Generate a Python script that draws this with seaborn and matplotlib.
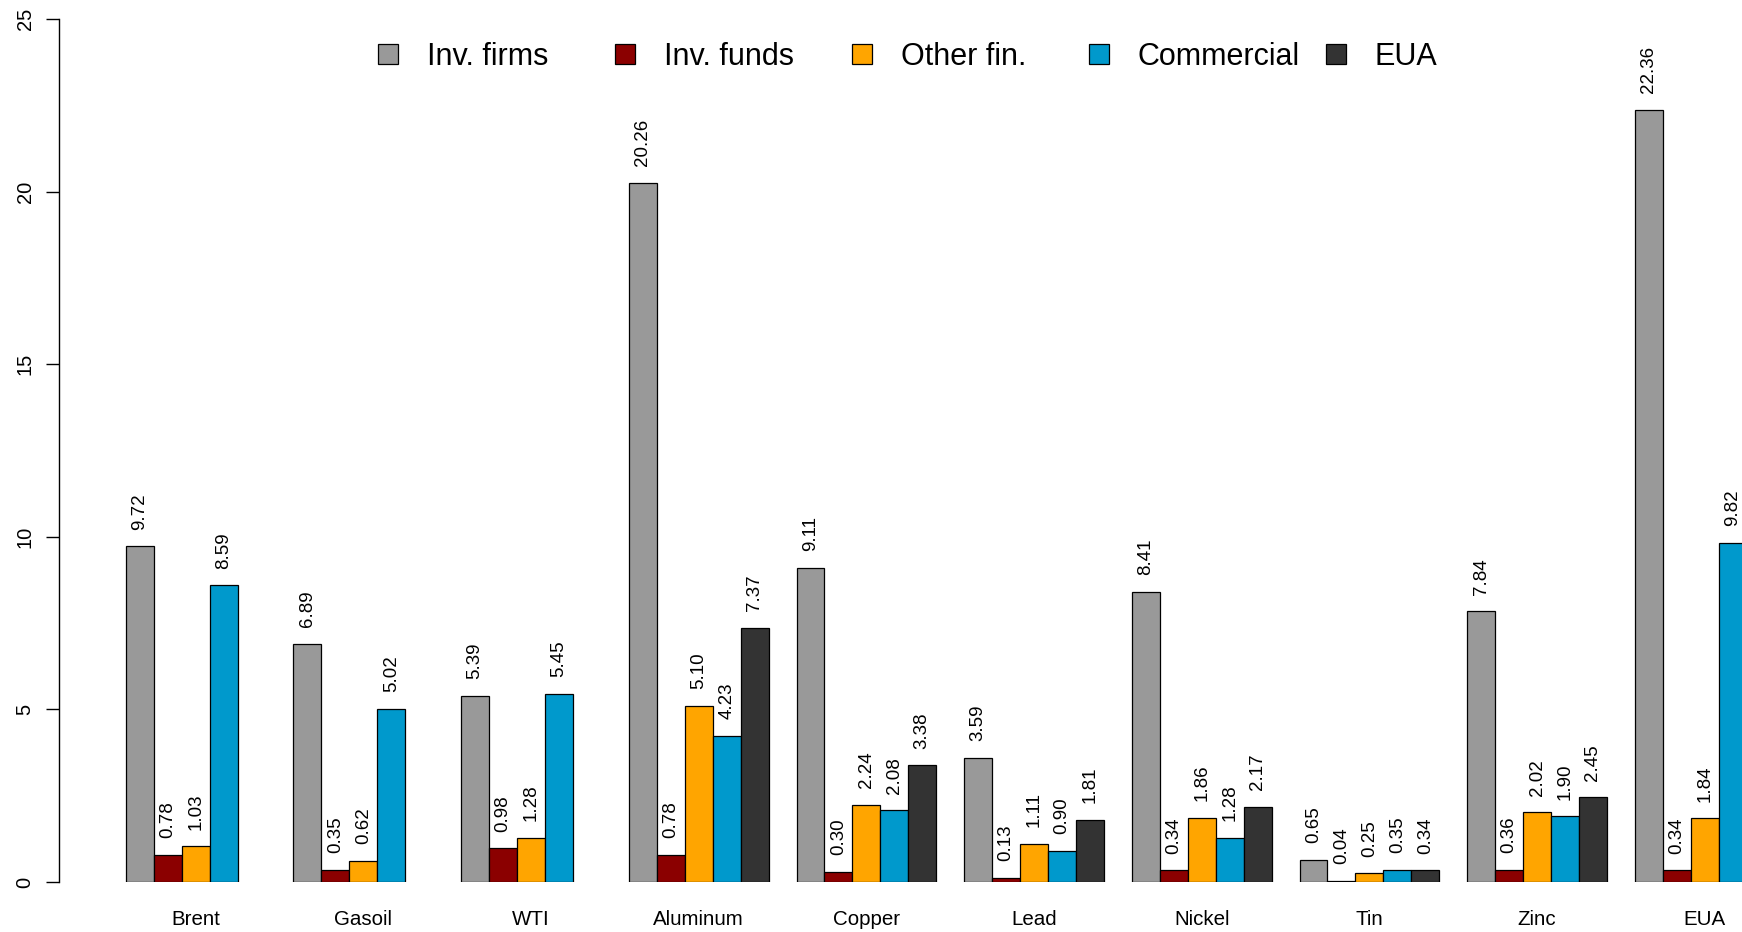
import numpy as np
import pandas as pd
import matplotlib
matplotlib.use("Agg")
import matplotlib.pyplot as plt
import seaborn as sns
from matplotlib.patches import Patch

categories = ["Brent", "Gasoil", "WTI", "Aluminum", "Copper", "Lead",
              "Nickel", "Tin", "Zinc", "EUA"]
series = ["Inv. firms", "Inv. funds", "Other fin.", "Commercial", "EUA"]
inv_firms = [9.72, 6.89, 5.39, 20.26, 9.11, 3.59, 8.41, 0.65, 7.84, 22.36]
inv_funds = [0.78, 0.35, 0.98, 0.78, 0.30, 0.13, 0.34, 0.04, 0.36, 0.34]
other_fin = [1.03, 0.62, 1.28, 5.10, 2.24, 1.11, 1.86, 0.25, 2.02, 1.84]
commercial = [8.59, 5.02, 5.45, 4.23, 2.08, 0.90, 1.28, 0.35, 1.90, 9.82]
eua = [np.nan, np.nan, np.nan, 7.37, 3.38, 1.81, 2.17, 0.34, 2.45, np.nan]
colors = ["#999999", "#8B0000", "#FFA500", "#0099CC", "#333333"]
y_ticks = [0, 5, 10, 15, 20, 25]

rows = []
for s, vals in zip(series, [inv_firms, inv_funds, other_fin, commercial, eua]):
    for c, v in zip(categories, vals):
        rows.append({"market": c, "group": s, "value": v})
df = pd.DataFrame(rows).dropna()

sns.set_style("white")
plt.rcParams["font.family"] = ["Liberation Sans", "DejaVu Sans"]
plt.rcParams["text.color"] = "black"
plt.rcParams["xtick.color"] = "black"
plt.rcParams["ytick.color"] = "black"
plt.rcParams["axes.labelcolor"] = "black"

W, H, DPI = 1742, 932, 100
fig = plt.figure(figsize=(W / DPI, H / DPI), dpi=DPI)
ax_left = 59 / W
ax_bottom = (H - 882) / H
ax = fig.add_axes([ax_left, ax_bottom, 1 - ax_left, 882 / H])

sns.barplot(data=df, x="market", y="value", hue="group", order=categories,
            hue_order=series, palette=colors, width=5 / 6, edgecolor="black",
            linewidth=0.9, saturation=1, errorbar=None, ax=ax)

for cont in ax.containers:
    ax.bar_label(cont, fmt="%.2f", rotation=90, padding=12, fontsize=13.5,
                 color="black", clip_on=False)

# R-unit mapping: 1 category = 6 bar widths
ax.set_xlim(-0.815, 9.222)
ax.set_ylim(0, 882 / 34.52)

ax.set_yticks(y_ticks)
ax.set_yticklabels([str(t) for t in y_ticks], rotation=90, va="center",
                   fontsize=14.5, color="black")
ax.tick_params(axis="y", length=9.5, width=1, pad=8, direction="out",
               left=True, color="black", labelcolor="black")
ax.tick_params(axis="x", length=0, pad=20, labelsize=14.8, labelcolor="black")
ax.set_xlabel("")
ax.set_ylabel("")
for side in ["top", "right", "bottom"]:
    ax.spines[side].set_visible(False)
ax.spines["left"].set_bounds(0, 25)
ax.spines["left"].set_color("black")
ax.spines["left"].set_linewidth(1)

leg = ax.get_legend()
if leg is not None:
    leg.remove()

# Legend entries evenly spaced (as in R horizontal legend)
leg_y = 1 - 57 / H
for i, (c, lab) in enumerate(zip(colors, series)):
    h = Patch(facecolor=c, edgecolor="black", linewidth=0.9)
    lg = fig.legend([h], [lab], loc="center left",
                    bbox_to_anchor=((377.8 + i * 237.0) / W, leg_y),
                    frameon=False, fontsize=22, handlelength=0.66,
                    handleheight=0.62, handletextpad=0.95, borderpad=0,
                    borderaxespad=0, labelcolor="black")

fig.savefig("out.png", dpi=DPI)
